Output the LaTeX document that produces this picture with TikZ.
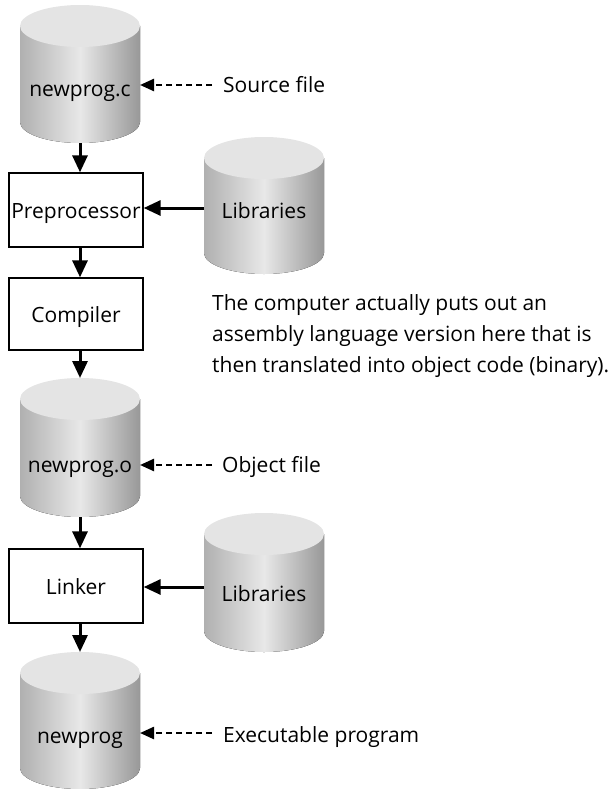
\documentclass[tikz,border=0pt]{standalone}
\usepackage{fontspec}
\setmainfont{Open Sans}
\usetikzlibrary{arrows.meta}
\definecolor{cylL}{HTML}{B0B0B0}
\definecolor{cylM}{HTML}{E8E8E8}
\definecolor{cylR}{HTML}{989898}
\definecolor{cylT}{HTML}{E4E4E4}
\newcommand\drawcyl[4]{%
  \pgfmathsetmacro\cylh{#4-#3}%
  \pgfmathsetmacro\cylc{-(#3+#4)/2}%
  \fill[left color=cylL,right color=cylR,middle color=cylM] (#2-60,-#3-21) -- (#2-60,-#4+21) arc[start angle=180,end angle=360,x radius=60,y radius=21] -- (#2+60,-#3-21) -- cycle;
  \fill[cylT] (#2,-#3-21) ellipse[x radius=60,y radius=21];
  \node[cylbox,minimum height=\cylh pt] (#1) at (#2,\cylc) {};
}
\begin{document}
\begin{tikzpicture}[x=1pt,y=1pt,
  font=\fontsize{21}{31}\selectfont,
  cylbox/.style={minimum width=120pt,inner sep=0pt,outer sep=0pt},
  proc/.style={draw,line width=1.3pt,fill=white,minimum width=134pt,inner sep=0pt,text height=20pt,text depth=4pt},
  flow/.style={line width=3pt,-{Triangle[length=17pt,width=15pt]}},
  note/.style={line width=2.4pt,dash pattern=on 6.5pt off 3.5pt,-{Triangle[length=14pt,width=12pt]}},
  lbl/.style={anchor=base west,inner xsep=0pt},
  ctext/.style={anchor=base,inner sep=0pt}
]
\useasboundingbox (0,0) rectangle (615,-789);
% cylinders
\drawcyl{src}{80}{5}{143}
\drawcyl{libA}{264}{137}{274}
\drawcyl{obj}{80}{378}{517}
\drawcyl{libB}{264}{513}{652}
\drawcyl{exe}{80}{652}{789}
\node[ctext] (srct) at (80,-97) {newprog.c};
\node[ctext] (libAt) at (264,-218) {Libraries};
\node[ctext] (objt) at (80,-472) {newprog.o};
\node[ctext] (libBt) at (264,-601) {Libraries};
\node[ctext] (exet) at (80,-743) {newprog};
% boxes
\node[proc,minimum height=74pt] (pre) at (76,-210) {Preprocessor};
\node[proc,minimum height=72pt] (comp) at (76,-314) {Compiler};
\node[proc,minimum height=74pt] (link) at (76,-586) {Linker};
% labels
\node[lbl] (srcl) at (223,-93) {Source file};
\node[lbl] (objl) at (222,-472) {Object file};
\node[lbl] (exel) at (223,-742) {Executable program};
\node[anchor=west,align=left,inner sep=0pt] (note) at (212,-336)
  {The computer actually puts out an\\assembly language version here that is\\then translated into object code (binary).};
% flow arrows
\draw[flow] (src.south) -- (src.south |- pre.north);
\draw[flow] (src.south |- pre.south) -- (src.south |- comp.north);
\draw[flow] (src.south |- comp.south) -- (obj.north);
\draw[flow] (obj.south) -- (obj.south |- link.north);
\draw[flow] (obj.south |- link.south) -- (exe.north);
\draw[flow] (libA.west |- 0,-208) -- (pre.east |- 0,-208);
\draw[flow] (libB.west |- 0,-587) -- (link.east |- 0,-587);
% dashed notes
\draw[note] ([xshift=-11pt]srcl.west |- 0,-85) -- (src.east |- 0,-85);
\draw[note] ([xshift=-10pt]objl.west |- 0,-465) -- (obj.east |- 0,-465);
\draw[note] ([xshift=-11pt]exel.west |- 0,-733) -- (exe.east |- 0,-733);
\end{tikzpicture}
\end{document}
